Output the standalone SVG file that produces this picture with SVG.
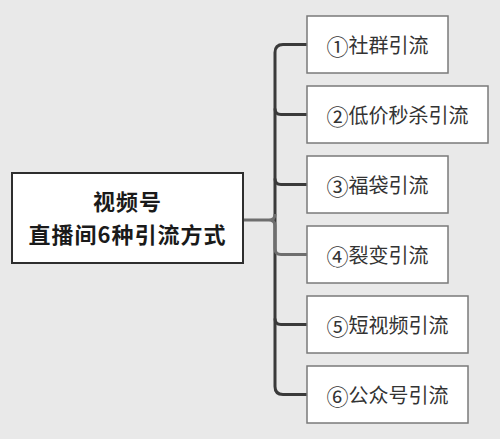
<svg xmlns="http://www.w3.org/2000/svg" width="500" height="439" viewBox="0 0 500 439">
<style>
.bg{fill:#e9e9e9}
.node rect{fill:#ffffff;stroke:#7a7a7a;stroke-width:1.5}
.center rect{fill:#ffffff;stroke:#2e2e2e;stroke-width:2}
.lbl{font-family:"Noto Sans CJK SC","Noto Sans",sans-serif;font-size:20px;fill:#333333;text-anchor:middle;dominant-baseline:central}
.num{font-size:22px}
.title{font-family:"Noto Sans CJK SC","Noto Sans",sans-serif;font-size:22px;font-weight:bold;fill:#1a1a1a;text-anchor:middle;letter-spacing:1px}
.c{fill:none;stroke:#3a3a3a;stroke-width:3;stroke-linecap:butt}
.cl{fill:none;stroke:#6e6e6e;stroke-width:3}
</style>
<rect class="bg" x="0" y="0" width="500" height="439"/>
<g id="connectors">
<path class="c" d="M307,44.5 H283 Q275,44.5 275,52.5 V386.5 Q275,394.5 283,394.5 H307"/>
<path class="c" d="M275,108.5 Q275,114.5 281,114.5 H307"/>
<path class="c" d="M275,178.5 Q275,184.5 281,184.5 H307"/>
<path class="c" d="M275,318.5 Q275,324.5 281,324.5 H307"/>
<path class="cl" d="M275,226 V248.5 Q275,254.5 281,254.5 H307"/>
<path class="cl" d="M243,220 H269 Q275,220 275,214 M269,220 Q275,220 275,226"/>
</g>
<g id="center" class="center">
<rect x="12" y="173" width="231" height="90"/>
<text class="title" x="127.5" y="210">视频号</text>
<text class="title" x="127.5" y="243">直播间6种引流方式</text>
</g>
<g id="n1" class="node"><rect x="307" y="16" width="141" height="57"/><text class="lbl" x="377.5" y="44.5"><tspan class="num">①</tspan>社群引流</text></g>
<g id="n2" class="node"><rect x="307" y="86" width="181" height="57"/><text class="lbl" x="397.5" y="114.5"><tspan class="num">②</tspan>低价秒杀引流</text></g>
<g id="n3" class="node"><rect x="307" y="156" width="141" height="57"/><text class="lbl" x="377.5" y="184.5"><tspan class="num">③</tspan>福袋引流</text></g>
<g id="n4" class="node"><rect x="307" y="226" width="141" height="57"/><text class="lbl" x="377.5" y="254.5"><tspan class="num">④</tspan>裂变引流</text></g>
<g id="n5" class="node"><rect x="307" y="296" width="161" height="57"/><text class="lbl" x="387.5" y="324.5"><tspan class="num">⑤</tspan>短视频引流</text></g>
<g id="n6" class="node"><rect x="307" y="366" width="161" height="57"/><text class="lbl" x="387.5" y="394.5"><tspan class="num">⑥</tspan>公众号引流</text></g>
</svg>
